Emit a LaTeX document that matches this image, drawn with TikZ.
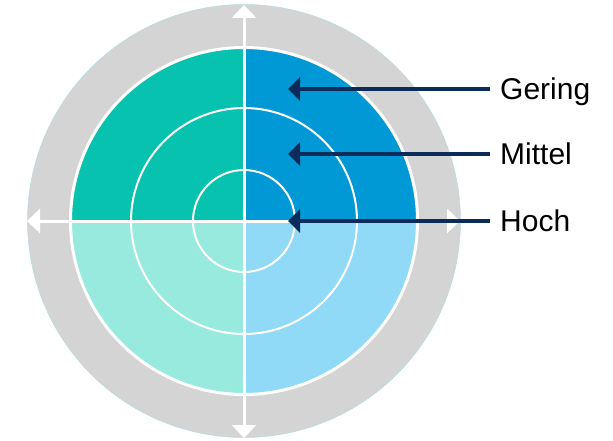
\documentclass[tikz,border=0pt]{standalone}
\usepackage{fontspec}
\setmainfont{Liberation Sans}
\usetikzlibrary{arrows.meta}
\definecolor{ringgray}{HTML}{D4D4D4}
\definecolor{ringedge}{HTML}{B4DDE4}
\definecolor{qteal}{HTML}{07C2AE}
\definecolor{qblue}{HTML}{0099D5}
\definecolor{qlteal}{HTML}{98EADF}
\definecolor{qlblue}{HTML}{90DAF7}
\definecolor{navy}{HTML}{0B2B5A}
\tikzset{
  crossarrow/.style={white,line width=3pt,{Triangle[length=13pt,width=24pt]}-{Triangle[length=13pt,width=24pt]}},
  navyarrow/.style={navy,line width=3.2pt,-{Triangle[length=12pt,width=23pt]}},
  lbl/.style={anchor=west,inner sep=0pt,text height=21.5pt,text depth=0pt,font=\fontsize{30}{36}\selectfont,text=black},
}
\begin{document}
\begin{tikzpicture}[x=1pt,y=1pt]
\useasboundingbox (0,0) rectangle (613,440);
\coordinate (c) at (244,219);
\fill[ringgray] (c) circle[radius=216.5];
\draw[ringedge,line width=0.5pt] (c) circle[radius=216.5];
\fill[qblue] (c) -- ++(173,0) arc[start angle=0,end angle=90,radius=173] -- cycle;
\fill[qteal] (c) -- ++(0,173) arc[start angle=90,end angle=180,radius=173] -- cycle;
\fill[qlteal] (c) -- ++(-173,0) arc[start angle=180,end angle=270,radius=173] -- cycle;
\fill[qlblue] (c) -- ++(0,-173) arc[start angle=270,end angle=360,radius=173] -- cycle;
\draw[white,line width=3pt] (c) circle[radius=173.5];
\draw[white,line width=2pt] (c) circle[radius=113] (c) circle[radius=51];
\coordinate (top) at (244,435);
\coordinate (bottom) at (244,2);
\coordinate (left) at (27,219);
\coordinate (right) at (460,219);
\draw[crossarrow] (left) -- (right);
\draw[crossarrow] (bottom) -- (top);
\node[lbl] (gering) at (500,351) {Gering};
\node[lbl] (mittel) at (500,286) {Mittel};
\node[lbl] (hoch) at (500,219) {Hoch};
\coordinate (tg) at (288,351);
\coordinate (tm) at (288,286);
\coordinate (th) at (288,219);
\draw[navyarrow] ([xshift=-10pt]gering.west) -- (tg);
\draw[navyarrow] ([xshift=-10pt]mittel.west) -- (tm);
\draw[navyarrow] ([xshift=-10pt]hoch.west) -- (th);
\end{tikzpicture}
\end{document}
